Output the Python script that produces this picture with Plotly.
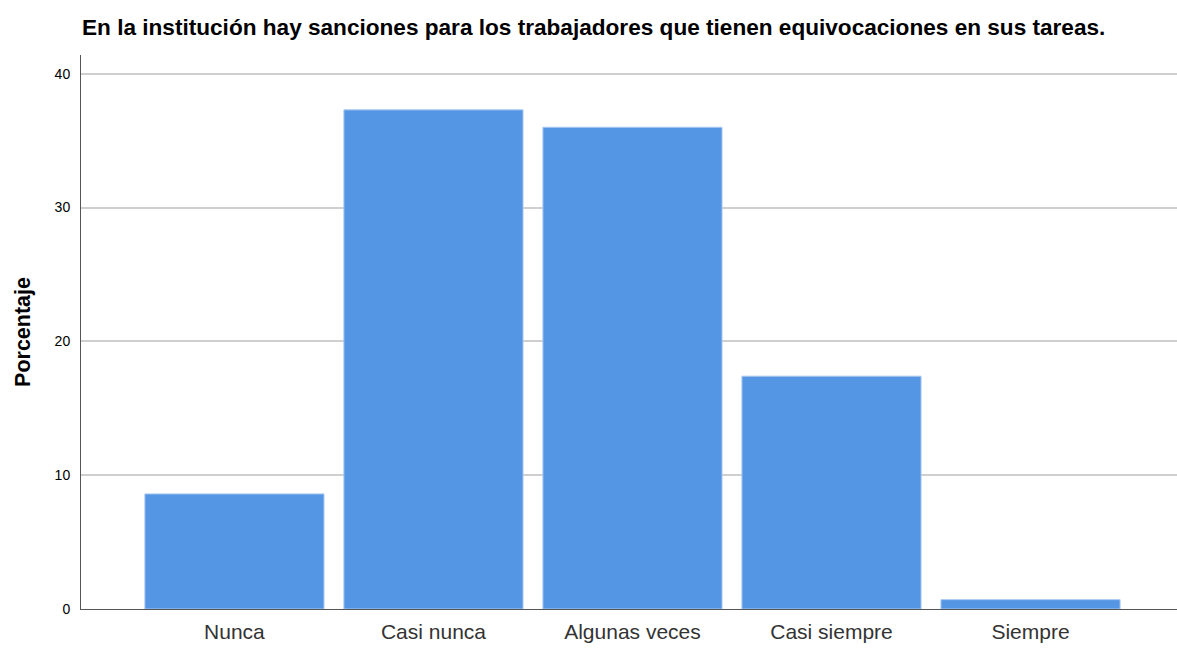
import plotly.graph_objects as go

categories = ["Nunca", "Casi nunca", "Algunas veces", "Casi siempre", "Siempre"]
percent = [8.6, 37.3, 36.0, 17.4, 0.7]
y_ticks = [0, 10, 20, 30, 40]

fig = go.Figure()
fig.add_trace(go.Bar(
    x=categories, y=percent,
    marker=dict(color="rgb(85,150,228)", line=dict(color="rgb(170,200,240)", width=1)),
    width=0.9,
))

fig.update_layout(
    width=1177, height=648,
    paper_bgcolor="white", plot_bgcolor="white",
    margin=dict(l=81, r=0, t=55, b=39),
    showlegend=False,
    font=dict(family="Liberation Sans, Arial, sans-serif", color="#000"),
    title=dict(
        text="<b>En la institución hay sanciones para los trabajadores que tienen equivocaciones en sus tareas.</b>",
        x=82/1177, xanchor="left", y=1-27/648, yanchor="middle",
        font=dict(size=22.6, color="#000"),
    ),
)
fig.update_xaxes(
    range=[-0.771, 4.736], showgrid=False, showline=True, linecolor="#555", linewidth=1,
    ticks="", tickfont=dict(size=21, color="#333"), ticklabelstandoff=4,
)
fig.update_yaxes(
    range=[0, 41.4], tickvals=y_ticks, showgrid=True, gridcolor="#cfcfcf", gridwidth=2,
    showline=True, linecolor="#555", linewidth=1, zeroline=False,
    ticks="", tickfont=dict(size=14, color="#000"), ticklabelstandoff=7,
    title=dict(text="<b>Porcentaje</b>", font=dict(size=21.5, color="#000"), standoff=18),
)

fig.write_html("out.html", config={"displayModeBar": False},
               post_script="document.body.style.margin='0';")
